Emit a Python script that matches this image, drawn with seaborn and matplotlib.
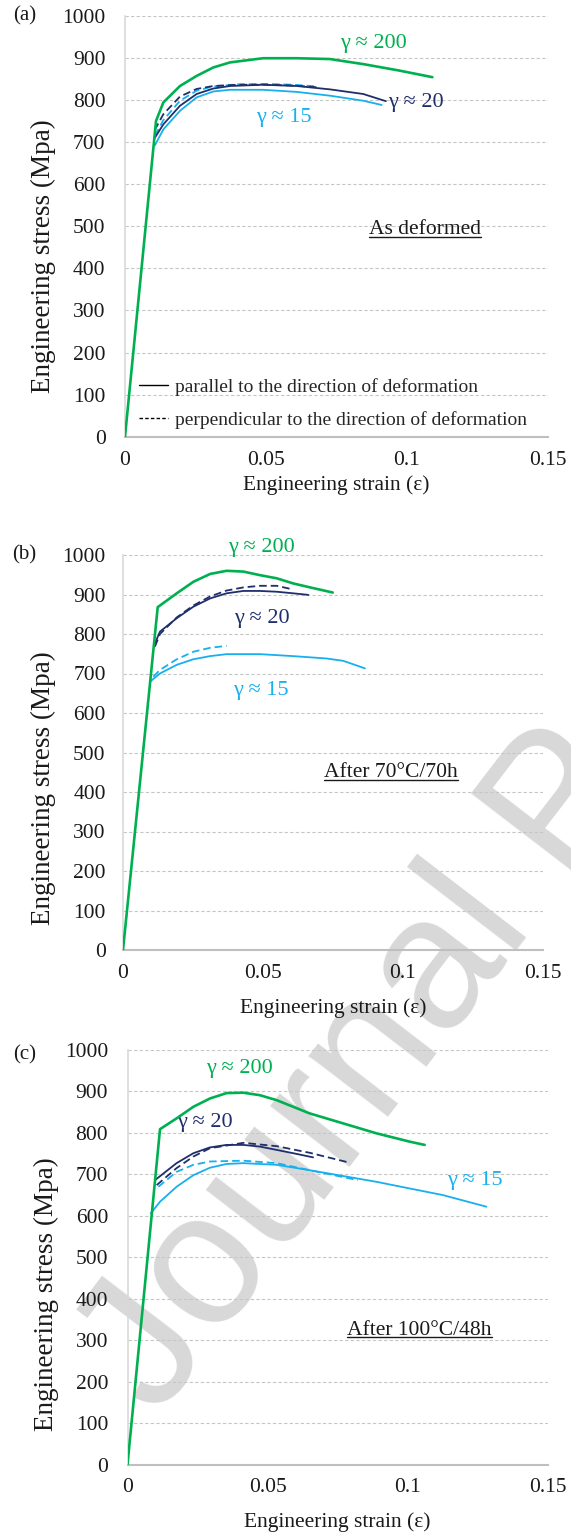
import matplotlib
matplotlib.use("Agg")
import matplotlib.pyplot as plt
import seaborn as sns
from matplotlib.lines import Line2D
from matplotlib.transforms import IdentityTransform

# ---------------- data ----------------
X_TICKS = [0, 0.05, 0.1, 0.15]
X_TICK_LABELS = ["0", "0.05", "0.1", "0.15"]
Y_TICKS = [0, 100, 200, 300, 400, 500, 600, 700, 800, 900, 1000]

# (a) As deformed
a_g200_strain = [0, 0.0110, 0.0136, 0.0195, 0.0254, 0.0313, 0.0372, 0.049, 0.0609, 0.0727, 0.0845, 0.0970, 0.109]
a_g200_stress = [0, 750, 794, 833, 857, 877, 889, 899, 899, 897, 885, 870, 854]
a_g20_par_strain = [0.0106, 0.0136, 0.0195, 0.0254, 0.0313, 0.0372, 0.049, 0.0609, 0.0727, 0.0845, 0.0925]
a_g20_par_stress = [710, 742, 786, 814, 827, 833, 836, 833, 825, 814, 797]
a_g20_perp_strain = [0.0105, 0.0136, 0.0195, 0.0254, 0.0313, 0.040, 0.050, 0.060, 0.068]
a_g20_perp_stress = [728, 766, 808, 826, 833, 836, 836, 834, 830]
a_g15_par_strain = [0.0106, 0.0136, 0.0195, 0.0254, 0.0313, 0.0372, 0.049, 0.0609, 0.0727, 0.0845, 0.091]
a_g15_par_stress = [692, 730, 774, 806, 820, 824, 824, 819, 810, 798, 788]
a_g15_perp_strain = [0.0106, 0.0136, 0.0195, 0.0254, 0.0313, 0.040, 0.050, 0.060, 0.068]
a_g15_perp_stress = [715, 752, 798, 822, 832, 837, 838, 836, 832]

# (b) After 70°C/70h
b_g200_strain = [0, 0.0124, 0.0192, 0.0251, 0.0311, 0.037, 0.043, 0.0489, 0.0549, 0.0608, 0.0668, 0.0749]
b_g200_stress = [0, 868, 903, 932, 952, 960, 958, 949, 941, 928, 918, 905]
b_g20_par_strain = [0.0114, 0.0132, 0.0192, 0.0251, 0.0311, 0.037, 0.043, 0.0489, 0.0549, 0.0608, 0.0662]
b_g20_par_stress = [776, 806, 840, 869, 890, 903, 909, 909, 907, 903, 899]
b_g20_perp_strain = [0.0114, 0.0132, 0.0192, 0.0251, 0.0311, 0.037, 0.043, 0.0489, 0.0549, 0.0606]
b_g20_perp_stress = [768, 800, 842, 872, 895, 910, 918, 922, 922, 913]
b_g15_par_strain = [0.0096, 0.0132, 0.0192, 0.0251, 0.0311, 0.037, 0.0489, 0.0608, 0.0727, 0.0787, 0.0864]
b_g15_par_stress = [679, 700, 722, 736, 744, 749, 749, 744, 738, 732, 713]
b_g15_perp_strain = [0.0108, 0.0132, 0.0192, 0.0251, 0.0311, 0.037]
b_g15_perp_stress = [692, 709, 736, 755, 765, 770]

# (c) After 100°C/48h
c_g200_strain = [0, 0.0116, 0.0175, 0.0235, 0.0294, 0.0353, 0.0413, 0.0472, 0.0532, 0.0591, 0.065, 0.0769, 0.0888, 0.1006, 0.106]
c_g200_stress = [0, 809, 835, 863, 883, 896, 897, 891, 879, 863, 847, 823, 799, 779, 771]
c_g20_par_strain = [0.0098, 0.0175, 0.0235, 0.0294, 0.0353, 0.0413, 0.0472, 0.0532, 0.0591, 0.0662]
c_g20_par_stress = [686, 727, 751, 765, 771, 771, 767, 759, 751, 741]
c_g20_perp_strain = [0.0104, 0.0175, 0.0235, 0.0294, 0.0413, 0.0532, 0.065, 0.0793]
c_g20_perp_stress = [674, 715, 743, 763, 776, 768, 752, 728]
c_g15_par_strain = [0.0083, 0.0116, 0.0175, 0.0235, 0.0294, 0.0353, 0.0413, 0.0532, 0.065, 0.0769, 0.0888, 0.1006, 0.1125, 0.128]
c_g15_par_stress = [606, 634, 670, 698, 716, 725, 727, 723, 710, 696, 682, 666, 650, 622]
c_g15_perp_strain = [0.011, 0.0175, 0.0235, 0.0294, 0.0413, 0.0532, 0.065, 0.0822]
c_g15_perp_stress = [670, 706, 723, 731, 733, 727, 710, 686]

LEGEND_LABELS = ["parallel to the direction of deformation",
                 "perpendicular to the direction of deformation"]

# ---------------- style ----------------
sns.set_style("white")
plt.rcParams["font.family"] = ["Liberation Serif", "DejaVu Serif"]

GREEN = "#00b050"
NAVY = "#1f2f6b"
LBLUE = "#17b0ee"
DASH = (0, (4.2, 2.2))

W, H = 571, 1536
fig = plt.figure(figsize=(W / 100, H / 100), dpi=100)


def axes_px(l, t, r, b):
    return fig.add_axes([l / W, 1 - b / H, (r - l) / W, (b - t) / H])


axA = axes_px(125, 15.7, 548, 436.7)
axB = axes_px(123, 555, 543, 950)
axC = axes_px(127.5, 1050, 548, 1464.5)


def draw_panel(ax, g15p, g15d, g20p, g20d, g200):
    for (xs, ys), col, ls, lw, z in [
        (g15d, LBLUE, DASH, 1.3, 3),
        (g20d, NAVY, DASH, 1.3, 3),
        (g15p, LBLUE, "-", 1.3, 4),
        (g20p, NAVY, "-", 1.3, 4),
        (g200, GREEN, "-", 1.9, 5),
    ]:
        sns.lineplot(x=xs, y=ys, ax=ax, color=col, linestyle=ls, linewidth=lw,
                     sort=False, estimator=None, zorder=z)


def style_axes(ax, ypad, xlab_y, ylab_x, ylab_y):
    ax.set_xlim(0, 0.15)
    ax.set_ylim(0, 1000)
    ax.set_xticks(X_TICKS)
    ax.set_xticklabels(X_TICK_LABELS)
    ax.set_yticks(Y_TICKS)
    ax.set_facecolor("none")
    for s in ["top", "right"]:
        ax.spines[s].set_visible(False)
    ax.spines["left"].set_color("#d9d9d9")
    ax.spines["left"].set_linewidth(1.2)
    ax.spines["bottom"].set_color("#bfbfbf")
    ax.spines["bottom"].set_linewidth(1.5)
    ax.grid(axis="y", color="#c6c6c6", linewidth=0.8, linestyle=(0, (3, 2)))
    ax.grid(axis="x", visible=False)
    ax.tick_params(length=0, labelsize=15.5, colors="#1a1a1a")
    ax.tick_params(axis="y", pad=ypad)
    ax.tick_params(axis="x", pad=10)
    ax.set_xlabel("Engineering strain (ε)", fontsize=15.5, color="#1a1a1a", va="center")
    ax.xaxis.set_label_coords(0.5, xlab_y)
    ax.set_ylabel("Engineering stress (Mpa)", fontsize=19.5, color="#1a1a1a", va="center")
    ax.yaxis.set_label_coords(ylab_x, ylab_y)


draw_panel(axA, (a_g15_par_strain, a_g15_par_stress), (a_g15_perp_strain, a_g15_perp_stress),
           (a_g20_par_strain, a_g20_par_stress), (a_g20_perp_strain, a_g20_perp_stress),
           (a_g200_strain, a_g200_stress))
draw_panel(axB, (b_g15_par_strain, b_g15_par_stress), (b_g15_perp_strain, b_g15_perp_stress),
           (b_g20_par_strain, b_g20_par_stress), (b_g20_perp_strain, b_g20_perp_stress),
           (b_g200_strain, b_g200_stress))
draw_panel(axC, (c_g15_par_strain, c_g15_par_stress), (c_g15_perp_strain, c_g15_perp_stress),
           (c_g20_par_strain, c_g20_par_stress), (c_g20_perp_strain, c_g20_perp_stress),
           (c_g200_strain, c_g200_stress))

style_axes(axA, 14, -0.114, -0.194, 0.43)
style_axes(axB, 12.5, -0.147, -0.189, 0.41)
style_axes(axC, 14, -0.14, -0.193, 0.41)

# curve annotations
ann_kw = dict(ha="center", va="center", fontsize=16, clip_on=False)
axA.text(0.088, 935, "γ ≈ 200", color=GREEN, **ann_kw)
axA.text(0.1032, 794, "γ ≈ 20", color=NAVY, **ann_kw)
axA.text(0.0564, 759, "γ ≈ 15", color=LBLUE, **ann_kw)
axB.text(0.0496, 1018, "γ ≈ 200", color=GREEN, **ann_kw)
axB.text(0.0496, 838, "γ ≈ 20", color=NAVY, **ann_kw)
axB.text(0.0493, 658, "γ ≈ 15", color=LBLUE, **ann_kw)
axC.text(0.0401, 955, "γ ≈ 200", color=GREEN, **ann_kw)
axC.text(0.0276, 826, "γ ≈ 20", color=NAVY, **ann_kw)
axC.text(0.1238, 686, "γ ≈ 15", color=LBLUE, **ann_kw)

cond_kw = dict(ha="center", va="center", fontsize=15.5, color="#1a1a1a")
tA = axA.text(0.1064, 492, "As deformed", **cond_kw)
tB = axB.text(0.0957, 449, "After 70°C/70h", **cond_kw)
tC = axC.text(0.1042, 324, "After 100°C/48h", **cond_kw)

# legend in panel (a)
handles = [Line2D([], [], color="black", lw=1.0, ls="-"),
           Line2D([], [], color="black", lw=1.0, ls=(0, (2.5, 1.6)))]
leg = axA.legend(handles, LEGEND_LABELS, loc="lower left", bbox_to_anchor=(0.032, 0.018),
                 frameon=False, fontsize=14, handlelength=1.5, handletextpad=0.4,
                 labelspacing=0.8, borderaxespad=0, borderpad=0)
for t in leg.get_texts():
    t.set_color("#262626")

# panel letters
for lab, ypix in [("(a)", 16), ("(b)", 555), ("(c)", 1055)]:
    fig.text(24.6 / W, 1 - ypix / H, lab, ha="center", va="center", fontsize=15, color="#1a1a1a")

# watermark
fig.text(118 / W, 1 - 1388 / H, "Journal Pre-proof", family=["Liberation Sans", "DejaVu Sans"],
         fontsize=136, color="#d8d8d8", rotation=52.5, rotation_mode="anchor",
         ha="left", va="center", zorder=-10)

# underline the condition labels
fig.canvas.draw()
for t in (tA, tB, tC):
    bb = t.get_window_extent()
    y = bb.y0 + 2.5
    fig.add_artist(Line2D([bb.x0, bb.x1], [y, y], transform=IdentityTransform(),
                          color="#1a1a1a", lw=1.0))

fig.savefig("out.png", dpi=100)
